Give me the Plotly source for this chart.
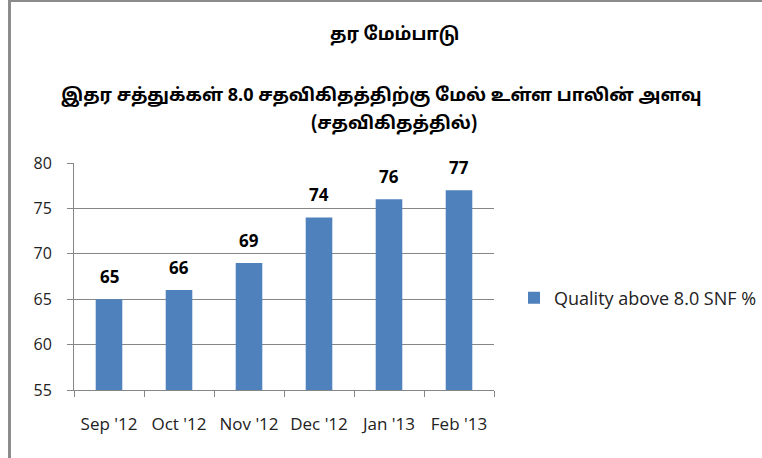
import plotly.graph_objects as go

months = ["Sep '12", "Oct '12", "Nov '12", "Dec '12", "Jan '13", "Feb '13"]
values = [65, 66, 69, 74, 76, 77]
series_name = "Quality above 8.0 SNF %"
title_text = "தர மேம்பாடு"
subtitle_line1 = "இதர சத்துக்கள் 8.0 சதவிகிதத்திற்கு மேல் உள்ள பாலின் அளவு"
subtitle_line2 = "(சதவிகிதத்தில்)"
y_ticks = [55, 60, 65, 70, 75, 80]

W, H = 762, 458
ML, MR, MT, MB = 74, 268, 163, 68
PW, PH = W - ML - MR, H - MT - MB

def px_x(px):
    return (px - ML) / PW

def px_y(py):
    return (H - MB - py) / PH

latin = "Open Sans, Liberation Sans, sans-serif"
tick_font = dict(family=latin, size=16, color="#222222")
tamil_font = "Noto Sans Tamil, Latha, Noto Sans, DejaVu Sans, sans-serif"

fig = go.Figure()
fig.add_trace(go.Bar(
    x=months, y=values, name=series_name,
    marker=dict(color="#4F81BD", line=dict(width=0)),
    width=0.38, showlegend=True,
))

for m, v in zip(months, values):
    fig.add_annotation(x=m, y=v, text="<b>%d</b>" % v, showarrow=False,
                       yanchor="bottom", yshift=9,
                       font=dict(family=latin, size=17, color="#000000"))

fig.add_annotation(xref="paper", yref="paper", x=px_x(394), y=px_y(35), text="<b>" + title_text + "</b>",
                   showarrow=False, xanchor="center", yanchor="middle",
                   font=dict(family=tamil_font, size=18, color="#000000"))
fig.add_annotation(xref="paper", yref="paper", x=px_x(381), y=px_y(97), text="<b>" + subtitle_line1 + "</b>",
                   showarrow=False, xanchor="center", yanchor="middle",
                   font=dict(family=tamil_font, size=18, color="#000000"))
fig.add_annotation(xref="paper", yref="paper", x=px_x(394), y=px_y(124), text="<b>" + subtitle_line2 + "</b>",
                   showarrow=False, xanchor="center", yanchor="middle",
                   font=dict(family=tamil_font, size=18, color="#000000"))

# chart frame (left and top edges visible)
fig.add_shape(type="line", xref="paper", yref="paper", x0=px_x(9.5), x1=px_x(9.5), y0=px_y(0), y1=px_y(458),
              line=dict(color="#8c8c8c", width=3))
fig.add_shape(type="line", xref="paper", yref="paper", x0=px_x(8), x1=px_x(762), y0=px_y(1), y1=px_y(1),
              line=dict(color="#8c8c8c", width=2))

fig.update_layout(
    width=W, height=H,
    margin=dict(l=ML, r=MR, t=MT, b=MB, pad=0, autoexpand=False),
    paper_bgcolor="white", plot_bgcolor="white",
    legend=dict(x=px_x(514), y=px_y(298), xanchor="left", yanchor="middle",
                font=dict(family=latin, size=18, color="#222222"),
                itemwidth=30, bgcolor="rgba(0,0,0,0)"),
    xaxis=dict(showline=True, linecolor="#868686", linewidth=1, ticks="outside", tickson="boundaries",
               ticklen=6, tickcolor="#868686", tickfont=dict(family=latin, size=17, color="#222222"),
               showgrid=False, ticklabelstandoff=19, automargin=False),
    yaxis=dict(range=[55, 80], tickvals=y_ticks, showline=True, linecolor="#868686", linewidth=1,
               ticks="outside", ticklen=6, tickcolor="#868686", showgrid=True, gridcolor="#868686",
               gridwidth=1, tickfont=tick_font, zeroline=False, ticklabelstandoff=12, automargin=False),
)

fig.write_html("out.html", post_script="document.body.style.margin='0';",
               config={"displayModeBar": False})
